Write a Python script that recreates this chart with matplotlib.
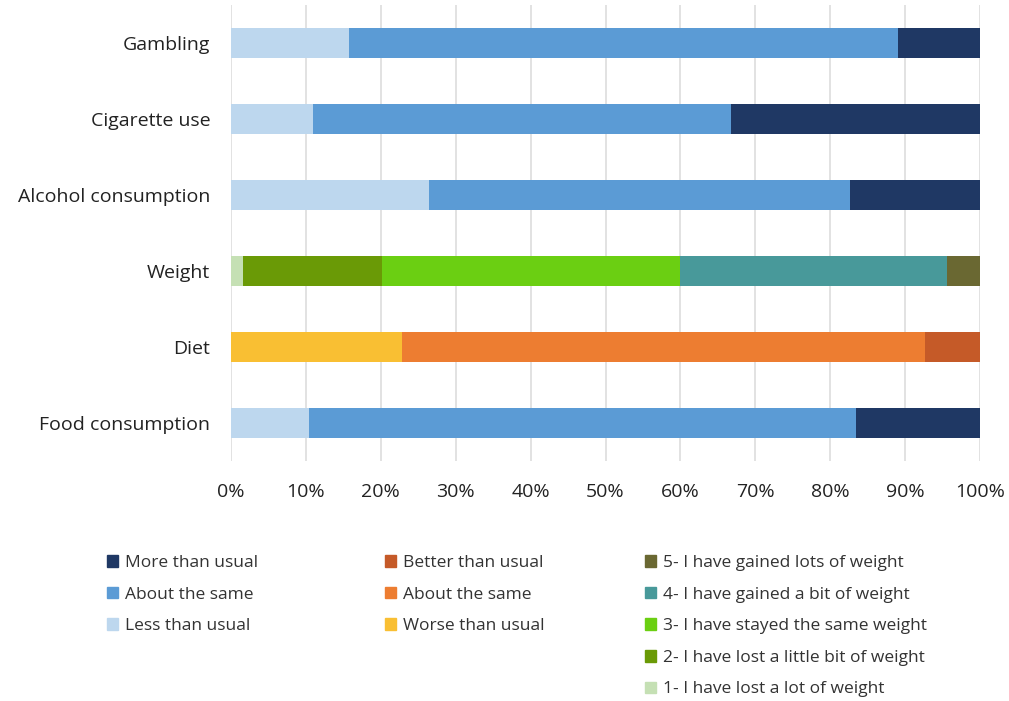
import matplotlib.pyplot as plt
from matplotlib.patches import Patch

plt.rcParams['font.family'] = ['Open Sans', 'DejaVu Sans']

# rows from bottom to top
categories = ["Food consumption", "Diet", "Weight",
              "Alcohol consumption", "Cigarette use", "Gambling"]

# behaviour rows (share the "usual" scale)
usual_rows = ["Food consumption", "Alcohol consumption", "Cigarette use", "Gambling"]
less_than_usual = [10.4, 26.4, 10.9, 15.8]
usual_same = [73.0, 56.2, 55.9, 73.2]
more_than_usual = [16.6, 17.4, 33.2, 11.0]

# diet row
diet_labels = ["Worse than usual", "About the same", "Better than usual"]
diet_values = [22.8, 69.9, 7.3]

# weight row
weight_labels = ["1- I have lost a lot of weight",
                 "2- I have lost a little bit of weight",
                 "3- I have stayed the same weight",
                 "4- I have gained a bit of weight",
                 "5- I have gained lots of weight"]
weight_values = [1.6, 18.6, 39.7, 35.7, 4.4]

usual_labels = ["Less than usual", "About the same", "More than usual"]
usual_colors = ["#BDD7EE", "#5B9BD5", "#1F3864"]
diet_colors = ["#F9BF33", "#ED7D31", "#C55A28"]
weight_colors = ["#C5E0B4", "#6A9A06", "#6BCF12", "#48999A", "#6A6832"]

fig = plt.figure(figsize=(10.09, 7.01), dpi=100)
ax = fig.add_axes([231 / 1009, 1 - 461 / 701, 749 / 1009, 456 / 701])

bar_h = 0.4
ypos = {c: i for i, c in enumerate(categories)}

# behaviour stacks
for row, vals in zip(usual_rows, zip(less_than_usual, usual_same, more_than_usual)):
    left = 0
    for v, col in zip(vals, usual_colors):
        ax.barh(ypos[row], v, left=left, height=bar_h, color=col, zorder=3)
        left += v

# diet stack
left = 0
for v, col in zip(diet_values, diet_colors):
    ax.barh(ypos["Diet"], v, left=left, height=bar_h, color=col, zorder=3)
    left += v

# weight stack
left = 0
for v, col in zip(weight_values, weight_colors):
    ax.barh(ypos["Weight"], v, left=left, height=bar_h, color=col, zorder=3)
    left += v

ax.set_xlim(0, 100)
ax.set_ylim(-0.5, len(categories) - 0.5)
ax.set_xticks(range(0, 101, 10))
ax.set_xticklabels([f"{t}%" for t in range(0, 101, 10)])
ax.set_yticks(range(len(categories)))
ax.set_yticklabels(categories)
ax.tick_params(axis='both', length=0, labelsize=14, colors='#222222')
ax.tick_params(axis='x', pad=16)
ax.tick_params(axis='y', pad=15)
ax.grid(axis='x', color='#DDDDDD', linewidth=1.2, zorder=0)
for s in ax.spines.values():
    s.set_visible(False)

# three legend columns
leg_kw = dict(frameon=False, fontsize=12.5, handlelength=0.65, handleheight=0.65,
              handletextpad=0.4, labelspacing=0.9, loc='upper left',
              labelcolor='#333333', borderaxespad=0)
h1 = [Patch(color=c) for c in usual_colors[::-1]]
fig.legend(h1, usual_labels[::-1], bbox_to_anchor=(100 / 1009, 1 - 548 / 701), **leg_kw)
h2 = [Patch(color=c) for c in diet_colors[::-1]]
fig.legend(h2, diet_labels[::-1], bbox_to_anchor=(378 / 1009, 1 - 548 / 701), **leg_kw)
h3 = [Patch(color=c) for c in weight_colors[::-1]]
fig.legend(h3, weight_labels[::-1], bbox_to_anchor=(638 / 1009, 1 - 548 / 701), **leg_kw)

fig.savefig("out.png", dpi=100)
